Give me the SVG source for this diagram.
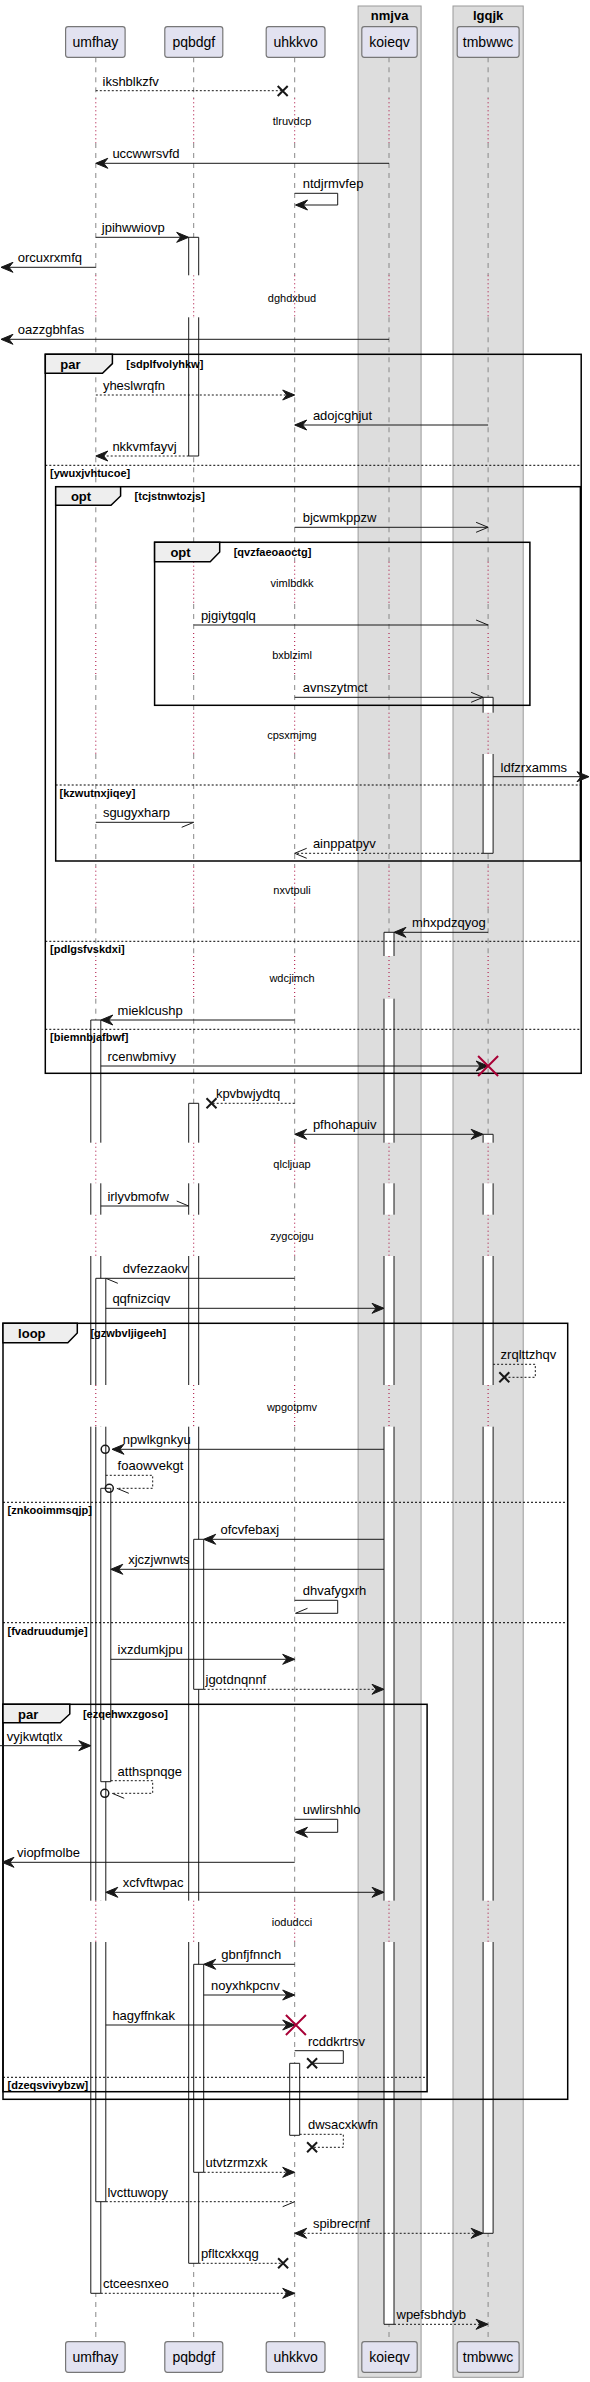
<svg xmlns="http://www.w3.org/2000/svg" width="590" height="2382" viewBox="0 0 590 2382">
<style>
text{font-family:"Liberation Sans",Arial,sans-serif;fill:#000}
.m{font-size:13px}
.d{font-size:11px;text-anchor:middle}
.p{font-size:14px;text-anchor:middle}
.bt{font-size:13px;font-weight:bold;text-anchor:middle}
.ft{font-size:13px;font-weight:bold}
.fc{font-size:11px;font-weight:bold}
.grp{fill:#DDDDDD;stroke:#999;stroke-width:1}
.pb{fill:#E2E2F0;stroke:#777;stroke-width:1.2}
.ll{fill:none;stroke:#888;stroke-width:1;stroke-dasharray:5,5}
.dl{fill:none;stroke:#A80036;stroke-width:1;stroke-dasharray:1,3}
.af{fill:#fff;stroke:none}
.ao{fill:none;stroke:#181818;stroke-width:1}
.fr{fill:none;stroke:#000;stroke-width:1.5}
.tab{fill:#EEEEEE;stroke:#000;stroke-width:1.5}
.sep{stroke:#000;stroke-width:1;stroke-dasharray:2,2}
.ln{fill:none;stroke:#181818;stroke-width:1}
.ds{stroke-dasharray:2,2}
.ah{fill:#181818;stroke:#181818;stroke-width:1}
.oh{fill:none;stroke:#181818;stroke-width:1}
.xk{fill:none;stroke:#181818;stroke-width:2}
.xr{fill:none;stroke:#A80036;stroke-width:2}
.ci{fill:none;stroke:#181818;stroke-width:1.5}
</style>
<defs>
<path id="ar" d="M0,0 L-12,-5 L-8,0 L-12,5 Z"/>
<path id="op" d="M-12,-5 L0,0 L-12,5"/>
<path id="hu" d="M-12,-5 L0,0"/>
<path id="hl" d="M-12,5 L0,0"/>
<path id="xx" d="M-5,-5 L5,5 M-5,5 L5,-5"/>
<path id="rx" d="M-10,-10 L10,10 M-10,10 L10,-10"/>
<path id="lld" d="M0,57.3V98.3M0,143V275.3M0,317.3V561.7M0,604V633M0,675V712.7M0,754V866.7M0,908.3V956M0,998.7V1142.7M0,1183.3V1214.7M0,1256V1385M0,1426.7V1900.7M0,1942V2341.7"/>
<path id="llo" d="M0,98.3V143M0,275.3V317.3M0,561.7V604M0,633V675M0,712.7V754M0,866.7V908.3M0,956V998.7M0,1142.7V1183.3M0,1214.7V1256M0,1385V1426.7M0,1900.7V1942"/>
</defs>
<rect width="590" height="2382" fill="#fff"/>
<g id="box_nmjva">
<rect class="grp" x="358.1" y="6" width="63" height="2371.3"/>
<text class="bt" x="389.6" y="19.5">nmjva</text>
</g>
<g id="box_lgqjk">
<rect class="grp" x="453" y="6" width="70.2" height="2371.3"/>
<text class="bt" x="488.1" y="19.5">lgqjk</text>
</g>
<g id="lifelines">
<use href="#lld" class="ll" x="95.8"/><use href="#llo" class="dl" x="95.8"/>
<use href="#lld" class="ll" x="193.7"/><use href="#llo" class="dl" x="193.7"/>
<use href="#lld" class="ll" x="294.7"/><use href="#llo" class="dl" x="294.7"/>
<use href="#lld" class="ll" x="389"/><use href="#llo" class="dl" x="389"/>
<use href="#lld" class="ll" x="488.1"/><use href="#llo" class="dl" x="488.1"/>
</g>
<g id="umfhay">
<rect class="pb" x="65.6" y="26.7" width="59.5" height="30.6" rx="2.5"/><text class="p" x="95.4" y="46.7">umfhay</text>
<rect class="pb" x="65.6" y="2341.7" width="59.5" height="30.6" rx="2.5"/><text class="p" x="95.4" y="2361.7">umfhay</text>
</g>
<g id="pqbdgf">
<rect class="pb" x="164.8" y="26.7" width="58" height="30.6" rx="2.5"/><text class="p" x="193.8" y="46.7">pqbdgf</text>
<rect class="pb" x="164.8" y="2341.7" width="58" height="30.6" rx="2.5"/><text class="p" x="193.8" y="2361.7">pqbdgf</text>
</g>
<g id="uhkkvo">
<rect class="pb" x="266.2" y="26.7" width="58.8" height="30.6" rx="2.5"/><text class="p" x="295.6" y="46.7">uhkkvo</text>
<rect class="pb" x="266.2" y="2341.7" width="58.8" height="30.6" rx="2.5"/><text class="p" x="295.6" y="2361.7">uhkkvo</text>
</g>
<g id="koieqv">
<rect class="pb" x="361.8" y="26.7" width="55.4" height="30.6" rx="2.5"/><text class="p" x="389.5" y="46.7">koieqv</text>
<rect class="pb" x="361.8" y="2341.7" width="55.4" height="30.6" rx="2.5"/><text class="p" x="389.5" y="2361.7">koieqv</text>
</g>
<g id="tmbwwc">
<rect class="pb" x="457.2" y="26.7" width="61.9" height="30.6" rx="2.5"/><text class="p" x="488.1" y="46.7">tmbwwc</text>
<rect class="pb" x="457.2" y="2341.7" width="61.9" height="30.6" rx="2.5"/><text class="p" x="488.1" y="2361.7">tmbwwc</text>
</g>
<g id="activations">
<g id="act_umfhay_1">
<rect class="af" x="90.8" y="1020" width="10" height="122.7"/><rect class="af" x="90.8" y="1183.3" width="10" height="31.4"/><rect class="af" x="90.8" y="1256" width="10" height="129"/><rect class="af" x="90.8" y="1426.7" width="10" height="474"/><rect class="af" x="90.8" y="1942" width="10" height="351.3"/>
<path class="ao" d="M90.8,1142.7V1020H100.8V1142.7M90.8,1183.3V1214.7M100.8,1183.3V1214.7M90.8,1256V1385M100.8,1256V1385M90.8,1426.7V1900.7M100.8,1426.7V1900.7M90.8,1942V2293.3H100.8V1942"/>
</g>
<g id="act_umfhay_2">
<rect class="af" x="95.8" y="1278.3" width="10" height="106.7"/><rect class="af" x="95.8" y="1426.7" width="10" height="474"/><rect class="af" x="95.8" y="1942" width="10" height="259.7"/>
<path class="ao" d="M95.8,1385V1278.3H105.8V1385M95.8,1426.7V1900.7M105.8,1426.7V1900.7M95.8,1942V2201.7H105.8V1942"/>
</g>
<g id="act_umfhay_3">
<rect class="af" x="100.8" y="1488.3" width="10" height="293.4"/>
<path class="ao" d="M100.8,1488.3H110.8V1781.7H100.8Z"/>
</g>
<g id="act_pqbdgf_1">
<rect class="af" x="188.7" y="237.3" width="10" height="38"/><rect class="af" x="188.7" y="317.3" width="10" height="138.7"/>
<path class="ao" d="M188.7,275.3V237.3H198.7V275.3M188.7,317.3V456H198.7V317.3"/>
</g>
<g id="act_pqbdgf_2">
<rect class="af" x="188.7" y="1103.3" width="10" height="39.4"/><rect class="af" x="188.7" y="1183.3" width="10" height="31.4"/><rect class="af" x="188.7" y="1256" width="10" height="129"/><rect class="af" x="188.7" y="1426.7" width="10" height="474"/><rect class="af" x="188.7" y="1942" width="10" height="321.3"/>
<path class="ao" d="M188.7,1142.7V1103.3H198.7V1142.7M188.7,1183.3V1214.7M198.7,1183.3V1214.7M188.7,1256V1385M198.7,1256V1385M188.7,1426.7V1900.7M198.7,1426.7V1900.7M188.7,1942V2263.3H198.7V1942"/>
</g>
<g id="act_pqbdgf_3">
<rect class="af" x="193.7" y="1539.3" width="10" height="150"/>
<path class="ao" d="M193.7,1539.3H203.7V1689.3H193.7Z"/>
</g>
<g id="act_pqbdgf_4">
<rect class="af" x="193.7" y="1964.3" width="10" height="208"/>
<path class="ao" d="M193.7,1964.3H203.7V2172.3H193.7Z"/>
</g>
<g id="act_uhkkvo_1">
<rect class="af" x="289.7" y="2063.3" width="10" height="72"/>
<path class="ao" d="M289.7,2063.3H299.7V2135.3H289.7Z"/>
</g>
<g id="act_koieqv_1">
<rect class="af" x="384" y="932.3" width="10" height="23.7"/><rect class="af" x="384" y="998.7" width="10" height="144"/><rect class="af" x="384" y="1183.3" width="10" height="31.4"/><rect class="af" x="384" y="1256" width="10" height="129"/><rect class="af" x="384" y="1426.7" width="10" height="474"/><rect class="af" x="384" y="1942" width="10" height="382.3"/>
<path class="ao" d="M384,956V932.3H394V956M384,998.7V1142.7M394,998.7V1142.7M384,1183.3V1214.7M394,1183.3V1214.7M384,1256V1385M394,1256V1385M384,1426.7V1900.7M394,1426.7V1900.7M384,1942V2324.3H394V1942"/>
</g>
<g id="act_tmbwwc_1">
<rect class="af" x="483.1" y="697.3" width="10" height="15.4"/><rect class="af" x="483.1" y="754" width="10" height="99.3"/>
<path class="ao" d="M483.1,712.7V697.3H493.1V712.7M483.1,754V853.3H493.1V754"/>
</g>
<g id="act_tmbwwc_2">
<rect class="af" x="483.1" y="1134.3" width="10" height="8.4"/><rect class="af" x="483.1" y="1183.3" width="10" height="31.4"/><rect class="af" x="483.1" y="1256" width="10" height="129"/><rect class="af" x="483.1" y="1426.7" width="10" height="474"/><rect class="af" x="483.1" y="1942" width="10" height="291.3"/>
<path class="ao" d="M483.1,1142.7V1134.3H493.1V1142.7M483.1,1183.3V1214.7M493.1,1183.3V1214.7M483.1,1256V1385M493.1,1256V1385M483.1,1426.7V1900.7M493.1,1426.7V1900.7M483.1,1942V2233.3H493.1V1942"/>
</g>
</g>
<g id="fragments">
<g id="frag_par1">
<rect class="fr" x="45.3" y="354.3" width="535.9" height="719"/>
<polygon class="tab" points="45.3,354.3 112.4,354.3 112.4,363.6 102.5,373.3 45.3,373.3"/>
<text class="ft" x="60.3" y="368.5">par</text>
<text class="fc" x="126.3" y="367.5">[sdplfvolyhkw]</text>
<line class="sep" x1="45.3" y1="465.3" x2="581.2" y2="465.3"/>
<text class="fc" x="50.1" y="477">[ywuxjvhtucoe]</text>
<line class="sep" x1="45.3" y1="941.3" x2="581.2" y2="941.3"/>
<text class="fc" x="50.1" y="953">[pdlgsfvskdxi]</text>
<line class="sep" x1="45.3" y1="1029.3" x2="581.2" y2="1029.3"/>
<text class="fc" x="50.1" y="1041">[biemnbjafbwf]</text>
</g>
<g id="frag_opt1">
<rect class="fr" x="55.7" y="486.7" width="524.7" height="374.3"/>
<polygon class="tab" points="55.7,486.7 120.6,486.7 120.6,496 111,505.3 55.7,505.3"/>
<text class="ft" x="70.9" y="501">opt</text>
<text class="fc" x="134.6" y="500">[tcjstnwtozjs]</text>
<line class="sep" x1="55.7" y1="785" x2="580.4" y2="785"/>
<text class="fc" x="59.6" y="797">[kzwutnxjiqey]</text>
</g>
<g id="frag_opt2">
<rect class="fr" x="154.6" y="542.3" width="375.3" height="163"/>
<polygon class="tab" points="154.6,542.3 219.7,542.3 219.7,552 210.2,561.7 154.6,561.7"/>
<text class="ft" x="170.4" y="556.5">opt</text>
<text class="fc" x="233.7" y="556">[qvzfaeoaoctg]</text>
</g>
<g id="frag_loop">
<rect class="fr" x="3" y="1323.3" width="564.7" height="776"/>
<polygon class="tab" points="3,1323.3 77.3,1323.3 77.3,1333 67.8,1342.7 3,1342.7"/>
<text class="ft" x="18.1" y="1337.5">loop</text>
<text class="fc" x="90.4" y="1337">[gzwbvljigeeh]</text>
<line class="sep" x1="3" y1="1502.3" x2="567.7" y2="1502.3"/>
<text class="fc" x="7.5" y="1514">[znkooimmsqjp]</text>
<line class="sep" x1="3" y1="1622.7" x2="567.7" y2="1622.7"/>
<text class="fc" x="7.5" y="1634.5">[fvadruudumje]</text>
</g>
<g id="frag_par2">
<rect class="fr" x="3" y="1704.3" width="424.1" height="387.4"/>
<polygon class="tab" points="3,1704.3 69.8,1704.3 69.8,1714 60.3,1722.7 3,1722.7"/>
<text class="ft" x="18.1" y="1718.5">par</text>
<text class="fc" x="82.9" y="1718">[ezqehwxzgoso]</text>
<line class="sep" x1="3" y1="2077.3" x2="427.1" y2="2077.3"/>
<text class="fc" x="7.5" y="2089">[dzeqsvivybzw]</text>
</g>
</g>
<g id="delays">
<text class="d" x="292" y="124.5">tlruvdcp</text>
<text class="d" x="292" y="301.5">dghdxbud</text>
<text class="d" x="292" y="586.5">vimlbdkk</text>
<text class="d" x="292" y="659">bxblziml</text>
<text class="d" x="292" y="739">cpsxmjmg</text>
<text class="d" x="292" y="894">nxvtpuli</text>
<text class="d" x="292" y="982">wdcjimch</text>
<text class="d" x="292" y="1168">qlcljuap</text>
<text class="d" x="292" y="1240">zygcojgu</text>
<text class="d" x="292" y="1411">wpgotpmv</text>
<text class="d" x="292" y="1926">iodudcci</text>
</g>
<g id="connectors">
<path class="ln ds" d="M95.8,90.7H282.7"/><use href="#xx" class="xk" x="282.7" y="91"/>
<text class="m" x="102.5" y="85.7">ikshblkzfv</text>
<path class="ln" d="M389,163.3H96.8"/><use href="#ar" class="ah" transform="translate(95.8,163.3) scale(-1,1)"/>
<text class="m" x="112.4" y="158.3">uccwwrsvfd</text>
<path class="ln" d="M294.7,193.3H337.7V205H296.5"/><use href="#ar" class="ah" transform="translate(295.5,205) scale(-1,1)"/>
<text class="m" x="302.7" y="188.3">ntdjrmvfep</text>
<path class="ln" d="M95.8,237.3H187.7"/><use href="#ar" class="ah" transform="translate(188.7,237.3)"/>
<text class="m" x="101.8" y="232.3">jpihwwiovp</text>
<path class="ln" d="M95.8,267.3H2"/><use href="#ar" class="ah" transform="translate(1,267.3) scale(-1,1)"/>
<text class="m" x="17.7" y="262.3">orcuxrxmfq</text>
<path class="ln" d="M389,339.3H2"/><use href="#ar" class="ah" transform="translate(1,339.3) scale(-1,1)"/>
<text class="m" x="17.7" y="334.3">oazzgbhfas</text>
<path class="ln ds" d="M95.8,395H293.7"/><use href="#ar" class="ah" transform="translate(294.7,395)"/>
<text class="m" x="102.9" y="390">yheslwrqfn</text>
<path class="ln" d="M488.1,425H295.7"/><use href="#ar" class="ah" transform="translate(294.7,425) scale(-1,1)"/>
<text class="m" x="312.9" y="420">adojcghjut</text>
<path class="ln ds" d="M188.7,456H96.8"/><use href="#ar" class="ah" transform="translate(95.8,456) scale(-1,1)"/>
<text class="m" x="112.4" y="451">nkkvmfayvj</text>
<path class="ln" d="M294.7,527.3H488.1"/><use href="#op" class="oh" transform="translate(488.1,527.3)"/>
<text class="m" x="302.7" y="522.3">bjcwmkppzw</text>
<path class="ln" d="M193.7,625H488.1"/><use href="#hu" class="oh" transform="translate(488.1,625)"/>
<text class="m" x="200.9" y="620">pjgiytgqlq</text>
<path class="ln" d="M294.7,697.3H483.1"/><use href="#op" class="oh" transform="translate(483.1,697.3)"/>
<text class="m" x="302.7" y="692.3">avnszytmct</text>
<path class="ln" d="M493.1,776.7H588"/><use href="#ar" class="ah" transform="translate(589,776.7)"/>
<text class="m" x="500.6" y="771.7">ldfzrxamms</text>
<path class="ln" d="M95.8,822.3H193.7"/><use href="#hl" class="oh" transform="translate(193.7,822.3)"/>
<text class="m" x="102.9" y="817.3">sgugyxharp</text>
<path class="ln ds" d="M483.1,853.3H294.7"/><use href="#op" class="oh" transform="translate(294.7,853.3) scale(-1,1)"/>
<text class="m" x="312.9" y="848.3">ainppatpyv</text>
<path class="ln" d="M488.1,932.3H395"/><use href="#ar" class="ah" transform="translate(394,932.3) scale(-1,1)"/>
<text class="m" x="412" y="927.3">mhxpdzqyog</text>
<path class="ln" d="M294.7,1020H101.8"/><use href="#ar" class="ah" transform="translate(100.8,1020) scale(-1,1)"/>
<text class="m" x="117.6" y="1015">mieklcushp</text>
<path class="ln" d="M100.8,1066H487.1"/><use href="#ar" class="ah" transform="translate(488.1,1066)"/><use href="#rx" class="xr" x="488.1" y="1066"/>
<text class="m" x="107.4" y="1061">rcenwbmivy</text>
<path class="ln ds" d="M294.7,1103.3H211.5"/><use href="#xx" class="xk" x="211.5" y="1103.3"/>
<text class="m" x="215.9" y="1098.3">kpvbwjydtq</text>
<path class="ln" d="M295.7,1134.3H482.1"/><use href="#ar" class="ah" transform="translate(294.7,1134.3) scale(-1,1)"/><use href="#ar" class="ah" transform="translate(483.1,1134.3)"/>
<text class="m" x="312.9" y="1129.3">pfhohapuiv</text>
<path class="ln" d="M100.8,1206H188.7"/><use href="#hu" class="oh" transform="translate(188.7,1206)"/>
<text class="m" x="107.4" y="1201">irlyvbmofw</text>
<path class="ln" d="M294.7,1278.3H105.8"/><use href="#hl" class="oh" transform="translate(105.8,1278.3) scale(-1,1)"/>
<text class="m" x="122.8" y="1273.3">dvfezzaokv</text>
<path class="ln" d="M105.8,1308.3H383"/><use href="#ar" class="ah" transform="translate(384,1308.3)"/>
<text class="m" x="112.4" y="1303.3">qqfnizciqv</text>
<path class="ln ds" d="M493.1,1364.3H535.3V1377.3H504.3"/><use href="#xx" class="xk" x="504.3" y="1377.3"/>
<text class="m" x="500.6" y="1359.3">zrqlttzhqv</text>
<path class="ln" d="M384,1449.3H113"/><use href="#ar" class="ah" transform="translate(112,1449.3) scale(-1,1)"/><circle class="ci" cx="105.2" cy="1449.3" r="4"/>
<text class="m" x="122.8" y="1444.3">npwlkgnkyu</text>
<path class="ln ds" d="M105.8,1475.3H152.7V1488.3H116.8"/><use href="#hl" class="oh" transform="translate(116.8,1488.3) scale(-1,1)"/><circle class="ci" cx="109.3" cy="1488.3" r="4"/>
<text class="m" x="117.6" y="1470.3">foaowvekgt</text>
<path class="ln" d="M384,1539.3H204.7"/><use href="#ar" class="ah" transform="translate(203.7,1539.3) scale(-1,1)"/>
<text class="m" x="220.5" y="1534.3">ofcvfebaxj</text>
<path class="ln" d="M384,1569.3H111.8"/><use href="#ar" class="ah" transform="translate(110.8,1569.3) scale(-1,1)"/>
<text class="m" x="128.2" y="1564.3">xjczjwnwts</text>
<path class="ln" d="M294.7,1600.3H337.7V1613.3H295.5"/><use href="#hu" class="oh" transform="translate(295.5,1613.3) scale(-1,1)"/>
<text class="m" x="302.7" y="1595">dhvafygxrh</text>
<path class="ln" d="M110.8,1659.3H293.7"/><use href="#ar" class="ah" transform="translate(294.7,1659.3)"/>
<text class="m" x="117.6" y="1654.3">ixzdumkjpu</text>
<path class="ln ds" d="M203.7,1689.3H383"/><use href="#ar" class="ah" transform="translate(384,1689.3)"/>
<text class="m" x="205.5" y="1684.3">jgotdnqnnf</text>
<path class="ln" d="M0,1745.7H89.8"/><use href="#ar" class="ah" transform="translate(90.8,1745.7)"/>
<text class="m" x="6.8" y="1740.7">vyjkwtqtlx</text>
<path class="ln ds" d="M110.8,1780.7H152.7V1793.3H112.2"/><use href="#hl" class="oh" transform="translate(112.2,1793.3) scale(-1,1)"/><circle class="ci" cx="104.8" cy="1793.3" r="4"/>
<text class="m" x="117.6" y="1775.7">atthspnqge</text>
<path class="ln" d="M294.7,1819.3H337.7V1832.3H296.5"/><use href="#ar" class="ah" transform="translate(295.5,1832.3) scale(-1,1)"/>
<text class="m" x="302.7" y="1814.3">uwlirshhlo</text>
<path class="ln" d="M294.7,1862.3H3"/><use href="#ar" class="ah" transform="translate(2,1862.3) scale(-1,1)"/>
<text class="m" x="17" y="1857.3">viopfmolbe</text>
<path class="ln" d="M106.8,1892.3H383"/><use href="#ar" class="ah" transform="translate(105.8,1892.3) scale(-1,1)"/><use href="#ar" class="ah" transform="translate(384,1892.3)"/>
<text class="m" x="122.8" y="1887.3">xcfvftwpac</text>
<path class="ln" d="M294.7,1964.3H204.7"/><use href="#ar" class="ah" transform="translate(203.7,1964.3) scale(-1,1)"/>
<text class="m" x="221.3" y="1959.3">gbnfjfnnch</text>
<path class="ln" d="M203.7,1995H293.7"/><use href="#ar" class="ah" transform="translate(294.7,1995)"/>
<text class="m" x="211.1" y="1990">noyxhkpcnv</text>
<path class="ln" d="M105.8,2025H293.7"/><use href="#ar" class="ah" transform="translate(294.7,2025)"/><use href="#rx" class="xr" x="295.9" y="2025"/>
<text class="m" x="112.4" y="2020">hagyffnkak</text>
<path class="ln" d="M294.7,2050.7H343.3V2063.3H312.1"/><use href="#xx" class="xk" x="312.1" y="2063.3"/>
<text class="m" x="308" y="2045.7">rcddkrtrsv</text>
<path class="ln ds" d="M299.7,2134.3H343.3V2147.3H312.1"/><use href="#xx" class="xk" x="312.1" y="2147.3"/>
<text class="m" x="308" y="2129.3">dwsacxkwfn</text>
<path class="ln ds" d="M203.7,2172.3H293.7"/><use href="#ar" class="ah" transform="translate(294.7,2172.3)"/>
<text class="m" x="205.5" y="2167.3">utvtzrmzxk</text>
<path class="ln ds" d="M105.8,2201.7H294.7"/><use href="#hl" class="oh" transform="translate(294.7,2201.7)"/>
<text class="m" x="107.4" y="2196.7">lvcttuwopy</text>
<path class="ln ds" d="M295.7,2233.3H482.1"/><use href="#ar" class="ah" transform="translate(294.7,2233.3) scale(-1,1)"/><use href="#ar" class="ah" transform="translate(483.1,2233.3)"/>
<text class="m" x="312.9" y="2228.3">spibrecrnf</text>
<path class="ln ds" d="M198.7,2263.3H283.1"/><use href="#xx" class="xk" x="283.1" y="2263.3"/>
<text class="m" x="200.9" y="2258.3">pfltcxkxqg</text>
<path class="ln ds" d="M100.8,2293.3H293.7"/><use href="#ar" class="ah" transform="translate(294.7,2293.3)"/>
<text class="m" x="102.9" y="2288.3">ctceesnxeo</text>
<path class="ln ds" d="M394,2324.3H487.1"/><use href="#ar" class="ah" transform="translate(488.1,2324.3)"/>
<text class="m" x="396.5" y="2319.3">wpefsbhdyb</text>
</g>
</svg>
